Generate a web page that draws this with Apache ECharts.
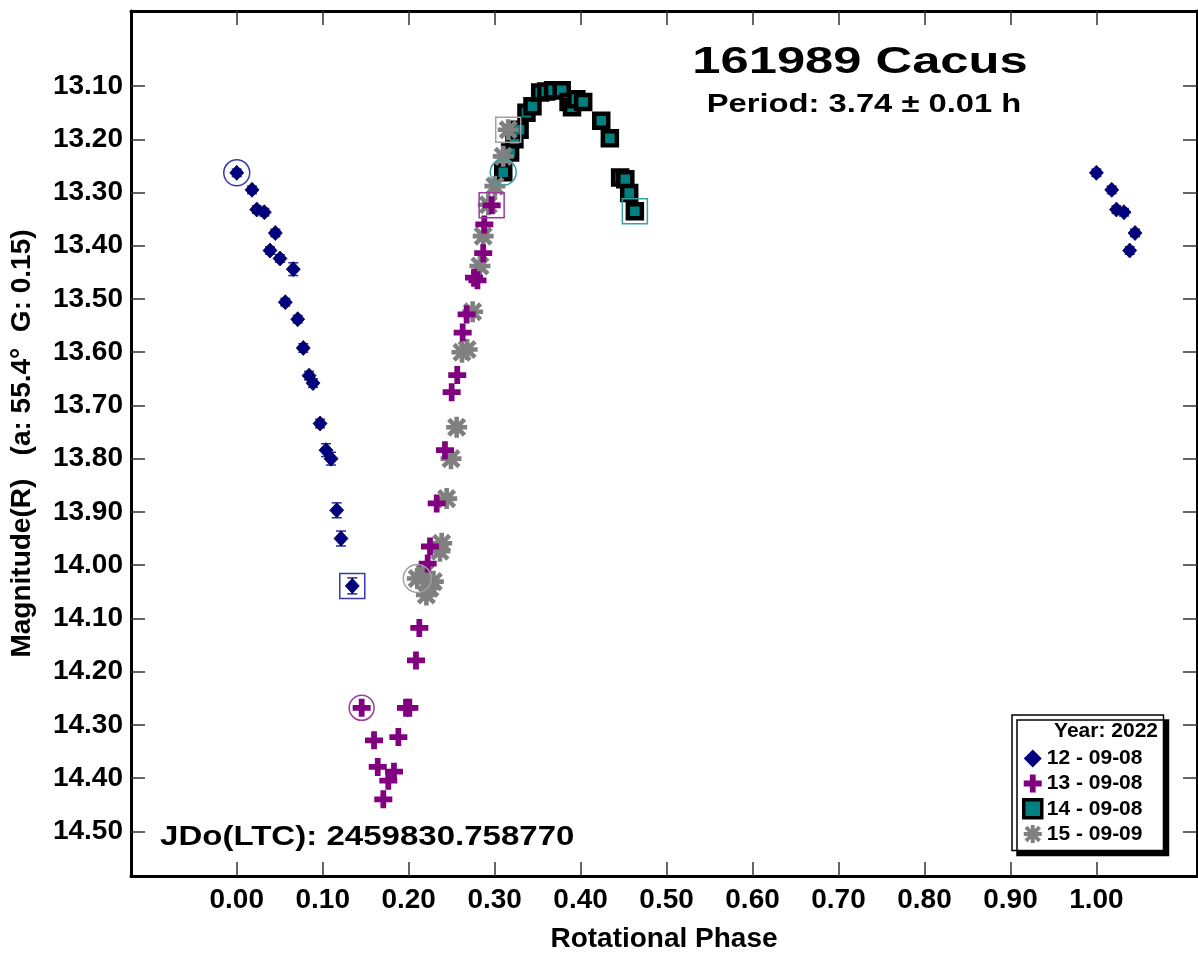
<!DOCTYPE html>
<html><head><meta charset="utf-8">
<script src="https://cdn.jsdelivr.net/npm/echarts@6/dist/echarts.min.js"></script>
<style>html,body{margin:0;padding:0;background:#fff}#c{width:1198px;height:958px}</style>
</head><body><div id="c"></div>
<script>
// ---- tick labels ----
const xTickLabels = ['0.00','0.10','0.20','0.30','0.40','0.50','0.60','0.70','0.80','0.90','1.00'];
const yTickLabels = ['13.10','13.20','13.30','13.40','13.50','13.60','13.70','13.80','13.90','14.00','14.10','14.20','14.30','14.40','14.50'];

// ---- session 12 - 09-08 (navy diamonds) ----
const s12Phase = [0.000,0.0178,0.0233,0.0321,0.0387,0.0449,0.0503,0.0565,0.0658,0.0709,0.0774,0.0841,0.0887,0.0969,0.1038,0.1097,0.1163,0.1213,0.1344];
const s12Mag   = [13.263,13.295,13.332,13.337,13.409,13.376,13.424,13.506,13.444,13.538,13.592,13.644,13.658,13.734,13.784,13.800,13.897,13.950,14.039];
const s12Err   = [0.007,0.007,0.007,0.007,0.007,0.007,0.007,0.007,0.012,0.007,0.008,0.008,0.008,0.008,0.012,0.012,0.014,0.014,0.015];

// ---- session 13 - 09-08 (purple plus) ----
const s13Phase = [0.1453,0.1597,0.1640,0.1705,0.1763,0.1829,0.1880,0.1969,0.2008,0.2085,0.2124,0.2221,0.2248,0.2326,0.2422,0.2500,0.2565,0.2628,0.2674,0.2760,0.2800,0.2867,0.2880,0.2965];
const s13Mag   = [14.268,14.329,14.379,14.440,14.405,14.388,14.323,14.268,14.268,14.179,14.118,13.997,13.965,13.884,13.784,13.675,13.643,13.563,13.529,13.460,13.465,13.414,13.360,13.324];

// ---- session 14 - 09-08 (teal squares) ----
const s14Phase = [0.3100,0.3180,0.3230,0.3290,0.3370,0.3440,0.3530,0.3600,0.3680,0.3780,0.3860,0.3900,0.3950,0.4030,0.4240,0.4340,0.4460,0.4520,0.4565,0.4631];
const s14Mag   = [13.262,13.225,13.200,13.182,13.150,13.138,13.112,13.110,13.108,13.108,13.130,13.140,13.125,13.130,13.165,13.198,13.272,13.275,13.301,13.335];

// ---- session 15 - 09-09 (gray asterisks) ----
const s15Phase = [0.2100,0.2190,0.2206,0.2248,0.2287,0.2364,0.2384,0.2442,0.2492,0.2558,0.2620,0.2680,0.2744,0.2829,0.2867,0.2926,0.3003,0.3100,0.3158];
const s15Mag   = [14.025,14.015,14.056,14.043,14.031,13.974,13.959,13.875,13.800,13.741,13.600,13.595,13.524,13.438,13.382,13.323,13.288,13.232,13.182];

const seriesNames = ['12 - 09-08','13 - 09-08','14 - 09-08','15 - 09-09'];

const NAVY='#000080', PURPLE='#800080', TEAL='#008080', GRAY='#808080';
const PLUS='path://M3.4,0h3.2v3.4h3.4v3.2h-3.4v3.4h-3.2v-3.4h-3.4v-3.2h3.4z';
const STAR='path://M7.8,0h4.4v20h-4.4z M0,7.8h20v4.4h-20z M0.9,4.0L4.0,0.9L19.1,16.0L16.0,19.1z M16.0,0.9L19.1,4.0L4.0,19.1L0.9,16.0z M5,5h10v10h-10z';
const FONT='"Liberation Sans", Arial, sans-serif';

const pts = (p,m)=>p.map((v,i)=>[v,m[i]]);
// points of the first session repeated past phase 1
const s12Wrap = s12Phase.map((v,i)=>[v,i]).filter(a=>a[0]<0.05).map(a=>[a[0]+1,s12Mag[a[1]],s12Err[a[1]]]);

function errSeries(data,color){
  return {type:'custom', silent:true, z:1, data:data, encode:{x:0,y:1},
    renderItem:(params,api)=>{
      const x=api.value(0), y=api.value(1), e=api.value(2);
      const a=api.coord([x,y-e]), b=api.coord([x,y+e]); const hw=5;
      const st={stroke:color,lineWidth:1.5};
      return {type:'group',children:[
        {type:'line',shape:{x1:a[0],y1:a[1],x2:b[0],y2:b[1]},style:st},
        {type:'line',shape:{x1:a[0]-hw,y1:a[1],x2:a[0]+hw,y2:a[1]},style:st},
        {type:'line',shape:{x1:b[0]-hw,y1:b[1],x2:b[0]+hw,y2:b[1]},style:st}]};
    }};
}
function mark(p,m,sym,color,size){
  return {type:'scatter', silent:true, z:5, symbol:sym, symbolSize:size,
    data:[[p,m]], itemStyle:{color:'rgba(0,0,0,0)',borderColor:color,borderWidth:1.5,opacity:1}};
}
const last=a=>a[a.length-1];

const xTickVals = xTickLabels.map(Number);
const yTickVals = yTickLabels.map(Number);
const axisLine = {show:true,onZero:false,lineStyle:{color:'#000',width:3}};
const tick = {show:true,inside:true,length:14,lineStyle:{color:'#333',width:1.5}};

const chart = echarts.init(document.getElementById('c'),null,{renderer:'canvas'});
chart.setOption({
  animation:false,
  backgroundColor:'#fff',
  grid:{left:131,right:1,top:11,bottom:79,containLabel:false},
  xAxis:[
    {type:'value',min:-0.123,max:1.117,position:'bottom',
     name:'Rotational Phase',nameLocation:'middle',nameGap:49,
     nameTextStyle:{fontFamily:FONT,fontWeight:'bold',fontSize:28,color:'#000'},
     axisLine:axisLine,splitLine:{show:false},
     axisTick:Object.assign({customValues:xTickVals},tick),
     axisLabel:{customValues:xTickVals,formatter:v=>v.toFixed(2),margin:10,fontFamily:FONT,fontWeight:'bold',fontSize:28,color:'#000'}},
    {type:'value',min:-0.123,max:1.117,position:'top',
     axisLine:axisLine,splitLine:{show:false},
     axisTick:Object.assign({customValues:xTickVals},tick),
     axisLabel:{show:false}}
  ],
  yAxis:[
    {type:'value',inverse:true,min:12.959,max:14.584,position:'left',
     name:'Magnitude(R)   (a: 55.4°  G: 0.15)',nameLocation:'middle',nameGap:95,nameRotate:90,
     nameTextStyle:{fontFamily:FONT,fontWeight:'bold',fontSize:28,color:'#000'},
     axisLine:axisLine,splitLine:{show:false},
     axisTick:Object.assign({customValues:yTickVals},tick),
     axisLabel:{customValues:yTickVals,formatter:v=>v.toFixed(2),margin:8,fontFamily:FONT,fontWeight:'bold',fontSize:28,color:'#000'}},
    {type:'value',inverse:true,min:12.959,max:14.584,position:'right',
     axisLine:axisLine,splitLine:{show:false},
     axisTick:Object.assign({customValues:yTickVals},tick),
     axisLabel:{show:false}}
  ],
  legend:{
    orient:'vertical',left:1012,top:715,
    padding:[33,21,6,10],itemGap:4,itemWidth:18,itemHeight:18,
    backgroundColor:'#fff',borderColor:'#000',borderWidth:1.5,
    shadowColor:'#000',shadowBlur:0,shadowOffsetX:5,shadowOffsetY:5,
    textStyle:{fontFamily:FONT,fontWeight:'bold',fontSize:21,color:'#000'},
    data:[
      {name:seriesNames[0],icon:'diamond',itemStyle:{color:NAVY,borderWidth:0,opacity:1}},
      {name:seriesNames[1],icon:PLUS,itemStyle:{color:PURPLE,borderWidth:0,opacity:1}},
      {name:seriesNames[2],icon:'rect',itemStyle:{color:TEAL,borderColor:'#000',borderWidth:3.5,opacity:1}},
      {name:seriesNames[3],icon:STAR,itemStyle:{color:GRAY,borderWidth:0,opacity:1}}
    ]
  },
  graphic:[
    {type:'text',x:860,y:63,scaleX:1.37,z:100,style:{text:'161989 Cacus',font:'bold 37px '+FONT,fill:'#000',align:'center',verticalAlign:'middle'}},
    {type:'text',x:864,y:105,scaleX:1.31,z:100,style:{text:'Period: 3.74 ± 0.01 h',font:'bold 25px '+FONT,fill:'#000',align:'center',verticalAlign:'middle'}},
    {type:'text',x:160,y:837,scaleX:1.18,z:100,style:{text:'JDo(LTC): 2459830.758770',font:'bold 28px '+FONT,fill:'#000',align:'left',verticalAlign:'middle'}},
    {type:'text',x:1158,y:731,z:100,style:{text:'Year: 2022',font:'bold 21px '+FONT,fill:'#000',align:'right',verticalAlign:'middle'}}
  ],
  series:[
    errSeries(s12Phase.map((p,i)=>[p,s12Mag[i],s12Err[i]]).concat(s12Wrap),'#2828a0'),
    {name:seriesNames[0],type:'scatter',z:2,symbol:'diamond',symbolSize:[14,15],
     itemStyle:{color:NAVY,borderColor:'#000040',borderWidth:0.8,opacity:1},
     data:pts(s12Phase,s12Mag).concat(s12Wrap.map(a=>[a[0],a[1]]))},
    {name:seriesNames[2],type:'scatter',z:2,symbol:'rect',symbolSize:14,
     itemStyle:{color:TEAL,borderColor:'#000',borderWidth:4.5,opacity:1},
     data:pts(s14Phase,s14Mag)},
    {name:seriesNames[3],type:'scatter',z:3,symbol:STAR,symbolSize:21,
     itemStyle:{color:GRAY,opacity:1},
     data:pts(s15Phase,s15Mag)},
    {name:seriesNames[1],type:'scatter',z:4,symbol:PLUS,symbolSize:18,
     itemStyle:{color:PURPLE,opacity:1},
     data:pts(s13Phase,s13Mag)},
    mark(s12Phase[0],s12Mag[0],'circle','#3a3aa8',26),
    mark(last(s12Phase),last(s12Mag),'rect','#3a3aa8',25),
    mark(s13Phase[0],s13Mag[0],'circle','#9a3aa0',25),
    mark(last(s13Phase),last(s13Mag),'rect','#9a3aa0',25),
    mark(s14Phase[0],s14Mag[0],'circle','#3aa0a0',26),
    mark(last(s14Phase),last(s14Mag),'rect','#3aa0a0',25),
    mark(s15Phase[0],s15Mag[0],'circle','#a0a0a0',28),
    mark(last(s15Phase),last(s15Mag),'rect','#a0a0a0',25)
  ]
});
</script></body></html>
